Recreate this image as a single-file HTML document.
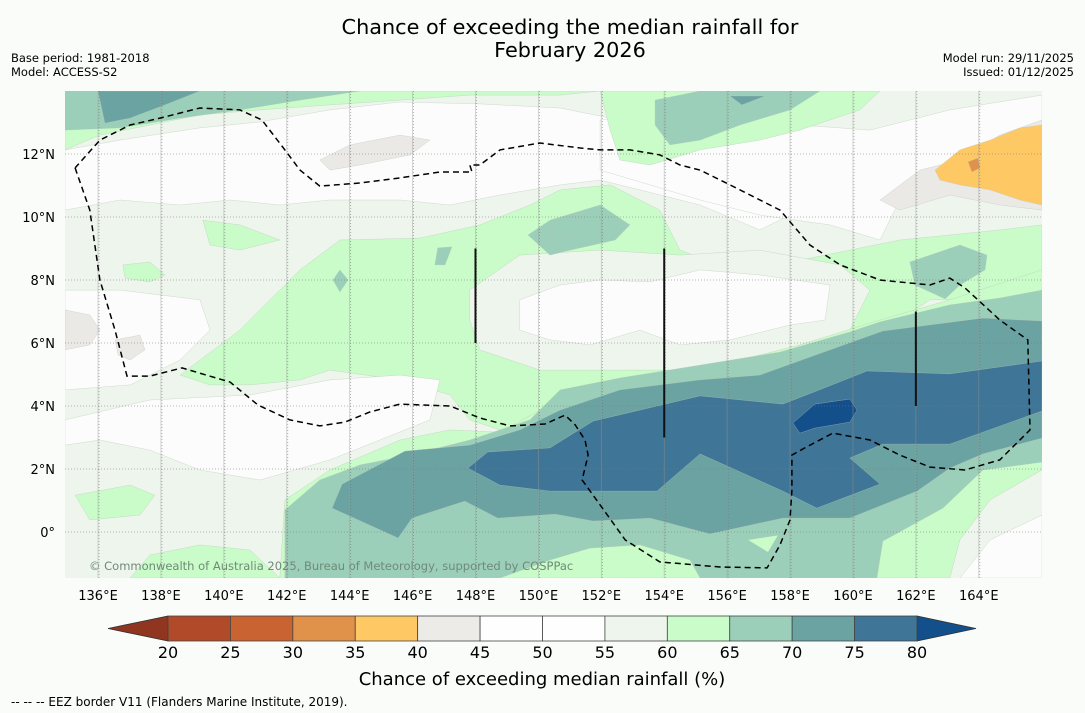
<!DOCTYPE html>
<html><head><meta charset="utf-8">
<style>
body{margin:0;background:#fafcfa;}
#wrap{position:relative;width:1085px;height:713px;overflow:hidden;background:#fafcfa;font-family:"DejaVu Sans","Liberation Sans",sans-serif;}
svg text{font-family:"DejaVu Sans","Liberation Sans",sans-serif;}
</style></head>
<body>
<div id="wrap">
<svg id="svg" width="1085" height="713">
  <text x="570" y="34" text-anchor="middle" font-size="20.8" fill="#000">Chance of exceeding the median rainfall for</text>
  <text x="570" y="57" text-anchor="middle" font-size="20.8" fill="#000">February 2026</text>
  <text x="11" y="62" font-size="11.5">Base period: 1981-2018</text>
  <text x="11" y="76" font-size="11.5">Model: ACCESS-S2</text>
  <text x="1074" y="62" font-size="11.5" text-anchor="end">Model run: 29/11/2025</text>
  <text x="1074" y="76" font-size="11.5" text-anchor="end">Issued: 01/12/2025</text>
  <defs><clipPath id="mapclip"><rect x="65" y="91" width="977" height="487"/></clipPath></defs>
  <g id="map" clip-path="url(#mapclip)">
    <rect x="65" y="91" width="977" height="487" fill="#eef5ec"/>
    <g id="contours"></g>
    <g id="grid"></g>
    <g id="overlay"></g>
  </g>
  <g id="axes"></g>
  <g id="cbar"></g>
  <text x="542" y="685" text-anchor="middle" font-size="18">Chance of exceeding median rainfall (%)</text>
  <text x="11" y="706" font-size="12">--  --  -- EEZ border V11 (Flanders Marine Institute, 2019).</text>
</svg>
</div>
<script>
// axis domain
const lonMin = 134.95, lonMax = 166.01, latMin = -1.46, latMax = 14.0;
const lonTicks = [136,138,140,142,144,146,148,150,152,154,156,158,160,162,164];
const latTicks = [0,2,4,6,8,10,12];
const latTickLabels = ["0°","2°N","4°N","6°N","8°N","10°N","12°N"];
const cbarLevels = [20,25,30,35,40,45,50,55,60,65,70,75,80];
const cbarColors = ["#b04a28","#c96432","#e0924a","#fec864","#ecebe7","#fdfefd","#fdfefd","#eef5ec","#c9fcc9","#9ccfb9","#6ba3a3","#3f7596"];
const cbarLow = "#8f3520", cbarHigh = "#134f8a";

// contour regions: [class, lon/lat pairs]
const regionClasses = ["w","w","gtop","gtopr","ltl","dtl","ltr","dtr","wd","gr1","gr2","gr3","gray2","gray3","gmid","lc","wc","we","glow","wf","gp1","gp2","gp3","t1","gp4","tb1","tb2","td1","td2","t2","dk","dkk","gray1","grayr","orange","dorange"];
const regionPts = [
 [[134.95,12.13],[136.7,12.44],[139.24,12.83],[141.15,13.02],[143.37,13.4],[145.6,13.65],[148.14,13.59],[150.69,13.46],[152.59,13.08],[153.86,12.13],[155.14,11.33],[157.04,10.54],[158.0,10.06],[157.04,9.59],[155.14,10.38],[153.23,10.86],[151.96,11.17],[150.69,11.02],[148.78,10.7],[147.19,10.38],[145.6,10.54],[143.37,10.54],[141.78,10.38],[140.2,10.54],[138.61,10.38],[136.7,10.54],[134.95,10.22]],
 [[151.96,13.08],[155.14,13.24],[158.31,12.92],[160.54,12.76],[163.08,13.4],[166.01,13.87],[166.01,12.76],[163.4,11.97],[161.49,10.54],[160.86,9.27],[159.27,9.75],[157.04,10.06],[155.14,10.54],[153.55,11.02],[151.96,11.49]],
 [[134.95,14],[151.96,14],[150.69,13.87],[147.82,13.87],[145.6,13.71],[143.37,13.56],[141.15,13.4],[139.24,13.24],[137.65,12.92],[136.06,12.6],[134.95,12.13]],
 [[151.96,14],[160.86,14],[160.22,13.4],[158.31,12.76],[157.04,12.44],[155.14,12.13],[153.55,11.65],[152.59,11.81],[152.28,12.76]],
 [[134.95,14],[144.33,14],[142.42,13.71],[140.51,13.4],[138.61,13.14],[136.7,12.83],[134.95,12.76]],
 [[136.0,14],[139.24,14],[138.13,13.56],[137.02,13.14],[136.22,12.98]],
 [[153.71,13.71],[155.14,14],[158.95,14],[158.0,13.4],[156.41,12.92],[155.14,12.44],[154.18,12.29],[153.71,12.92]],
 [[156.09,13.84],[157.2,13.84],[156.47,13.56]],
 [[134.95,7.68],[136.7,7.68],[139.24,7.37],[139.56,6.41],[138.61,5.46],[137.02,4.67],[134.95,4.51]],
 [[136.79,8.48],[137.65,8.57],[138.13,8.16],[137.65,7.94],[136.86,8.06]],
 [[139.33,9.9],[140.51,9.75],[141.78,9.27],[140.51,8.95],[139.56,9.11]],
 [[147.19,4.98],[147.82,5.08],[148.39,4.67],[147.82,4.35],[147.25,4.51]],
 [[134.95,7.05],[135.74,6.89],[136.06,6.41],[135.74,5.94],[134.95,5.78]],
 [[136.54,6.1],[137.33,6.25],[137.49,5.78],[137.02,5.46],[136.64,5.62]],
 [[138.61,4.98],[140.51,6.41],[142.42,8.32],[143.69,9.27],[146.23,9.33],[148.14,9.75],[149.73,10.38],[150.69,10.86],[152.28,11.02],[153.86,10.22],[154.5,8.95],[155.77,8.48],[158.31,8.63],[159.9,8.95],[161.49,9.27],[163.08,9.43],[164.67,9.59],[166.01,9.75],[166.01,8.0],[164.67,7.37],[162.45,7.37],[161.49,6.73],[160.22,6.41],[159.27,5.94],[158.0,5.46],[156.41,5.14],[154.82,4.98],[153.23,4.83],[151.64,4.51],[150.69,4.19],[149.73,3.56],[148.78,3.24],[147.82,3.56],[147.19,4.35],[145.6,4.83],[143.37,5.14],[142.42,4.83],[140.83,4.67],[139.56,4.67]],
 [[147.82,7.68],[149.41,8.79],[151.96,8.95],[154.5,8.79],[157.04,8.95],[159.59,8.48],[160.54,7.68],[159.9,6.41],[158.31,5.94],[156.41,5.3],[154.5,5.14],[151.96,5.14],[150.05,5.14],[148.14,5.78],[147.82,6.73]],
 [[149.41,7.37],[150.69,7.84],[151.96,8.0],[153.55,7.94],[155.14,8.32],[157.04,8.16],[159.27,7.84],[159.11,6.73],[158.0,6.57],[156.09,6.1],[154.5,5.94],[153.23,6.41],[151.64,5.94],[150.37,6.1],[149.41,6.41]],
 [[134.95,3.56],[137.65,4.19],[140.83,4.35],[143.37,4.83],[145.6,4.98],[146.87,4.83],[146.55,3.56],[144.96,2.92],[143.37,2.29],[141.15,1.65],[139.24,1.97],[137.65,2.6],[136.06,2.92],[134.95,2.76]],
 [[141.78,-1.46],[141.94,1.02],[143.37,1.97],[145.6,2.92],[147.19,3.24],[148.78,3.17],[150.05,3.87],[150.69,4.35],[152.59,4.67],[155.14,5.14],[158.31,5.94],[160.86,6.73],[163.08,7.37],[166.01,8.32],[166.01,1.97],[164.36,1.02],[163.4,-0.25],[163.08,-1.46]],
 [[163.4,-1.46],[164.36,-0.25],[166.01,0.54],[166.01,-1.46]],
 [[135.27,1.17],[137.02,1.49],[137.81,1.17],[137.33,0.54],[135.74,0.38]],
 [[137.02,-1.46],[137.65,-0.73],[139.24,-0.41],[140.83,-0.57],[141.78,-1.46]],
 [[150.37,9.9],[151.96,10.38],[152.91,9.75],[152.44,9.27],[151.01,8.95],[150.37,8.79],[149.67,9.43]],
 [[141.94,-1.46],[141.94,0.7],[143.05,1.65],[144.33,2.13],[145.92,2.44],[147.82,2.92],[149.73,3.56],[150.69,4.51],[152.59,4.89],[155.14,5.3],[157.68,5.71],[159.9,6.35],[160.86,6.67],[163.08,7.21],[164.67,7.43],[166.01,7.68],[166.01,2.22],[164.13,1.97],[162.86,0.76],[160.95,-0.29],[160.76,-1.46],[155.14,-1.46],[154.82,-0.89],[153.23,-0.41],[151.64,-0.51],[150.37,-0.89],[148.78,-1.46]],
 [[156.66,-0.25],[157.62,-0.1],[157.3,-0.64]],
 [[161.81,8.57],[163.4,9.11],[164.26,8.79],[164.2,8.32],[163.4,7.84],[162.93,7.4],[161.97,7.84]],
 [[143.47,8.0],[143.69,8.32],[143.95,8.0],[143.69,7.62]],
 [[146.8,9.02],[147.25,9.05],[147.03,8.48],[146.71,8.48]],
 [[150.37,9.9],[151.2,10.1],[151.5,9.6],[150.9,9.3],[150.37,9.4]],
 [[143.44,0.76],[143.76,1.52],[145.76,2.57],[147.82,2.76],[149.41,3.24],[150.69,3.87],[152.59,4.51],[155.14,4.83],[157.04,4.98],[159.27,5.78],[160.95,6.38],[164.13,6.79],[166.01,6.7],[166.01,2.98],[164.13,2.48],[163.08,2.03],[162.04,1.3],[159.9,0.44],[157.77,0.44],[155.45,-0.06],[153.55,0.44],[151.74,0.35],[150.53,0.57],[148.71,0.44],[147.66,0.98],[145.98,0.44],[145.54,-0.19]],
 [[147.76,2.03],[148.39,2.54],[150.37,2.67],[151.74,3.52],[155.14,4.32],[157.77,4.06],[158.85,4.48],[160.45,5.11],[163.08,5.02],[166.01,5.43],[166.01,3.84],[163.08,2.79],[160.95,2.79],[159.9,2.35],[160.86,1.52],[158.85,0.76],[157.77,1.3],[155.14,2.48],[153.77,1.3],[150.37,1.3],[148.78,1.49]],
 [[158.09,3.46],[158.79,4.06],[159.9,4.22],[160.13,3.87],[159.9,3.49],[158.79,3.3],[158.31,3.14]],
 [[143.05,11.81],[144.01,12.29],[145.6,12.6],[146.55,12.44],[145.92,11.97],[144.33,11.65],[143.37,11.49]],
 [[160.86,10.54],[162.13,11.49],[163.4,11.81],[164.67,12.6],[166.01,13.08],[166.01,10.22],[164.67,10.38],[163.08,10.7],[161.49,10.22]],
 [[162.61,11.49],[163.4,12.13],[164.36,12.44],[165.31,12.83],[166.01,12.92],[166.01,10.38],[165.31,10.54],[164.36,10.86],[163.4,11.02],[162.77,11.17]],
 [[163.66,11.75],[163.97,11.87],[164.04,11.56],[163.78,11.43]]
];
// EEZ border (lon, lat)
const eezLon = [135.27,135.74,136.06,136.54,136.92,137.65,138.67,140.2,141.09,142.1,143.05,143.85,144.64,145.6,147.19,148.14,149.1,150.21,150.85,151.17,151.48,151.58,151.39,151.96,152.76,153.86,155.77,157.27,157.68,158.0,158.06,158.06,158.47,159.36,160.54,161.49,162.45,163.56,164.67,165.63,165.56,164.67,163.56,163.08,162.45,160.86,159.59,158.63,157.68,157.36,156.09,155.14,154.5,153.86,152.91,151.96,151.33,150.05,148.78,148.14,147.82,147.89,146.87,145.6,144.33,143.05,142.42,141.94,141.21,140.51,139.24,137.97,137.02,136.06,135.27];
const eezLat = [11.56,10.22,8.0,6.41,4.95,4.95,5.21,4.76,4.03,3.56,3.37,3.49,3.81,4.06,4.0,3.62,3.37,3.43,3.71,3.4,2.92,2.44,1.65,0.86,-0.25,-0.95,-1.11,-1.14,-0.41,0.38,1.33,2.44,2.67,3.14,2.92,2.44,2.06,1.97,2.29,3.24,6.1,6.73,7.75,8.06,7.84,8.0,8.48,9.11,10.22,10.38,11.02,11.49,11.65,11.97,12.13,12.13,12.19,12.35,12.13,11.65,11.65,11.43,11.43,11.24,11.08,10.98,11.49,12.13,13.08,13.4,13.46,13.14,12.92,12.44,11.56];
// vertical marker lines: lon, lat start, lat end
const markLon = [148,154,162];
const markLat0 = [6,3,4];
const markLat1 = [9,9,7];

const classColor = {w:"#fbfcfb",gtop:"#c9fcc9",gtopr:"#c9fcc9",ltl:"#9ccfb9",dtl:"#6ba3a3",ltr:"#9ccfb9",dtr:"#6ba3a3",wd:"#fbfcfb",gr1:"#c9fcc9",gr2:"#c9fcc9",gr3:"#c9fcc9",gray1:"#ebe9e5",gray2:"#ebe9e5",gray3:"#ebe9e5",gmid:"#c9fcc9",lc:"#eef5ec",wc:"#fbfcfb",we:"#fbfcfb",glow:"#c9fcc9",wf:"#fbfcfb",gp1:"#c9fcc9",gp2:"#c9fcc9",gp3:"#9ccfb9",t1:"#9ccfb9",gp4:"#c9fcc9",tb1:"#9ccfb9",tb2:"#9ccfb9",td1:"#9ccfb9",td2:"#9ccfb9",t2:"#6ba3a3",dk:"#3f7596",dkk:"#134f8a",grayr:"#ebe9e5",orange:"#fec864",dorange:"#e0924a"};

const X0=65,X1=1042,Y0=91,Y1=578;
function xs(lon){return X0+(lon-lonMin)/(lonMax-lonMin)*(X1-X0);}
function ys(lat){return Y1-(lat-latMin)/(latMax-latMin)*(Y1-Y0);}
const NS="http://www.w3.org/2000/svg";
function mk(tag,attrs,parent){const e=document.createElementNS(NS,tag);for(const k in attrs)e.setAttribute(k,attrs[k]);parent.appendChild(e);return e;}

const cont=document.getElementById('contours');
regionPts.forEach((pts,i)=>{
  const d=pts.map((p,j)=>(j?'L':'M')+xs(p[0]).toFixed(1)+','+ys(p[1]).toFixed(1)).join('')+'Z';
  const e=mk('path',{d:d,fill:classColor[regionClasses[i]],stroke:"#b8c4b8","stroke-width":"0.5","stroke-opacity":"0.6"},cont);
  
  
});

const grid=document.getElementById('grid');
lonTicks.forEach(l=>{
  const x=xs(l);
  const a=mk('line',{x1:x,y1:Y0,x2:x,y2:Y1,stroke:"#999","stroke-width":"0.8","stroke-opacity":"0.5"},grid);
  
  
  const b=mk('line',{x1:x+1,y1:Y0,x2:x+1,y2:Y1,stroke:"#666","stroke-width":"0.8","stroke-dasharray":"1,2","stroke-opacity":"0.6"},grid);
  
  
});
latTicks.forEach(l=>{
  const y=ys(l);
  const a=mk('line',{x1:X0,y1:y,x2:X1,y2:y,stroke:"#777","stroke-width":"0.8","stroke-dasharray":"1,2","stroke-opacity":"0.7"},grid);
  
  
});

const ov=document.getElementById('overlay');
const eezD=eezLon.map((l,i)=>(i?'L':'M')+xs(l).toFixed(1)+','+ys(eezLat[i]).toFixed(1)).join('');
const eez=mk('path',{d:eezD,fill:"none",stroke:"#000","stroke-width":"1.5","stroke-dasharray":"6,4"},ov);


markLon.forEach((l,i)=>{
  const m=mk('line',{x1:xs(l),y1:ys(markLat0[i]),x2:xs(l),y2:ys(markLat1[i]),stroke:"#111","stroke-width":"2"},ov);
  
  
});
const cp=mk('text',{x:89,y:570,"font-size":"11.5",fill:"#6f8a78"},ov);
cp.textContent="© Commonwealth of Australia 2025, Bureau of Meteorology, supported by COSPPac";



const ax=document.getElementById('axes');
lonTicks.forEach(l=>{
  const t=mk('text',{x:xs(l),y:600,"font-size":"13","text-anchor":"middle"},ax);
  t.textContent=l+"°E";
  
  
});
latTicks.forEach((l,i)=>{
  const t=mk('text',{x:55,y:ys(l)+5,"font-size":"13","text-anchor":"end"},ax);
  t.textContent=latTickLabels[i];
  
  
});

const cb=document.getElementById('cbar');
const CB0=168,CB1=917,CBY=616,CBH=25;
function cx(v){return CB0+(v-cbarLevels[0])/(cbarLevels[cbarLevels.length-1]-cbarLevels[0])*(CB1-CB0);}
const lt=mk('polygon',{points:`108,${CBY+CBH/2} ${CB0},${CBY} ${CB0},${CBY+CBH}`,fill:cbarLow,stroke:"#333","stroke-width":"0.8"},cb);


const rt=mk('polygon',{points:`976,${CBY+CBH/2} ${CB1},${CBY} ${CB1},${CBY+CBH}`,fill:cbarHigh,stroke:"#333","stroke-width":"0.8"},cb);


cbarColors.forEach((c,i)=>{
  const r=mk('rect',{x:cx(cbarLevels[i]),y:CBY,width:cx(cbarLevels[i+1])-cx(cbarLevels[i]),height:CBH,fill:c,stroke:"#444","stroke-width":"0.8"},cb);
  
  
});
cbarLevels.forEach(v=>{
  const t=mk('text',{x:cx(v),y:658,"font-size":"16","text-anchor":"middle"},cb);
  t.textContent=v;
  
  
});
</script>
</body></html>
